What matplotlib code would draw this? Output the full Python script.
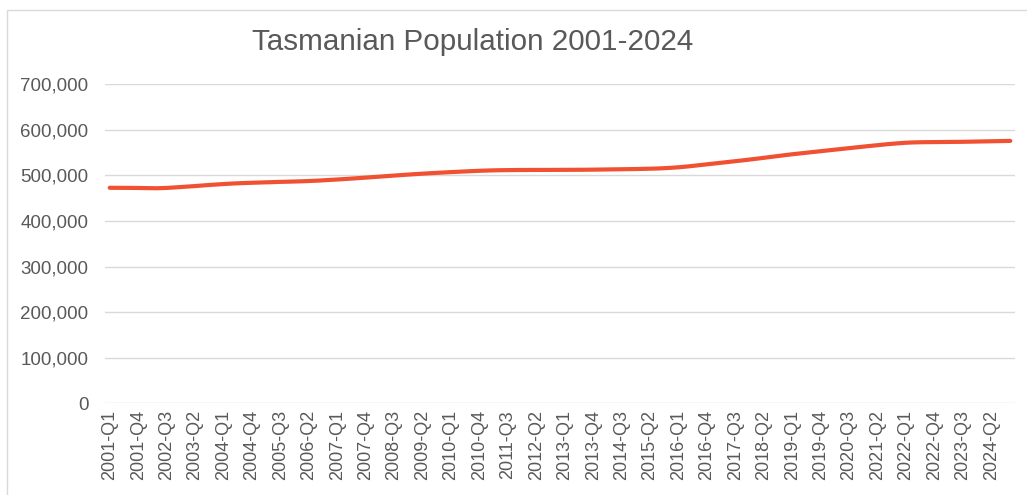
import matplotlib
matplotlib.use("Agg")
import matplotlib.pyplot as plt
from matplotlib.patches import Rectangle
from matplotlib.ticker import FuncFormatter, MultipleLocator

# Quarterly categories 2001-Q1 .. 2024-Q4
quarters = [f"{y}-Q{q}" for y in range(2001, 2025) for q in range(1, 5)]

# Estimated resident population, Tasmania (persons)
population = [
    472900, 472800, 472700, 472500, 472200, 471900, 472600, 473900,
    475300, 476700, 478300, 479800, 481100, 482300, 483200, 483900,
    484600, 485200, 485900, 486400, 487000, 487800, 488700, 489900,
    491100, 492400, 493800, 495200, 496700, 498200, 499700, 501200,
    502600, 503900, 505100, 506200, 507300, 508300, 509300, 510200,
    510900, 511400, 511700, 511900, 512000, 512100, 512100, 512200,
    512300, 512400, 512500, 512700, 513000, 513300, 513600, 513900,
    514300, 514800, 515400, 516500, 517900, 519800, 522100, 524400,
    526700, 529000, 531300, 533600, 536100, 538700, 541300, 543900,
    546500, 548700, 551000, 553200, 555500, 557700, 559900, 562100,
    564300, 566400, 568500, 570300, 571800, 572600, 573000, 573200,
    573400, 573600, 573800, 574200, 574600, 575000, 575400, 575800,
]

title = "Tasmanian Population 2001-2024"
line_color = "#f05133"
text_color = "#595959"
grid_color = "#d9d9d9"

plt.rcParams["font.family"] = ["Liberation Sans", "DejaVu Sans"]

W, H = 1027, 495
fig = plt.figure(figsize=(W / 100, H / 100), dpi=100)
fig.patch.set_facecolor("white")

# Chart-area frame
fig.patches.append(Rectangle((6.5 / W, -0.1), 1.2, 1.1 - 10 / H,
                             transform=fig.transFigure, fill=False,
                             edgecolor=grid_color, linewidth=1.0))

ax = fig.add_axes([105 / W, 1 - 403.3 / H, 910 / W, 319 / H])
x = list(range(len(quarters)))
ax.plot(x, population, color=line_color, linewidth=3.0,
        solid_capstyle="round", solid_joinstyle="round", zorder=3)

ax.set_xlim(-0.5, len(quarters) - 0.5)
ax.set_ylim(0, 700000)
ax.yaxis.set_major_locator(MultipleLocator(100000))
ax.yaxis.set_major_formatter(FuncFormatter(lambda v, p: f"{int(v):,}"))
ax.grid(axis="y", color=grid_color, linewidth=1.0)
ax.set_axisbelow(True)

for s in ax.spines.values():
    s.set_visible(False)

tick_idx = x[::3]
ax.set_xticks(tick_idx)
ax.set_xticklabels([quarters[i] for i in tick_idx], rotation=90,
                   ha="center", va="top")
ax.tick_params(axis="x", length=0, pad=5, labelsize=13, labelcolor=text_color)
ax.tick_params(axis="y", length=0, pad=12, labelsize=13.5, labelcolor=text_color)

fig.text(473 / W, 1 - 42 / H, title, ha="center", va="center",
         fontsize=21.3, color=text_color)

fig.savefig("out.png", dpi=100, facecolor="white")
